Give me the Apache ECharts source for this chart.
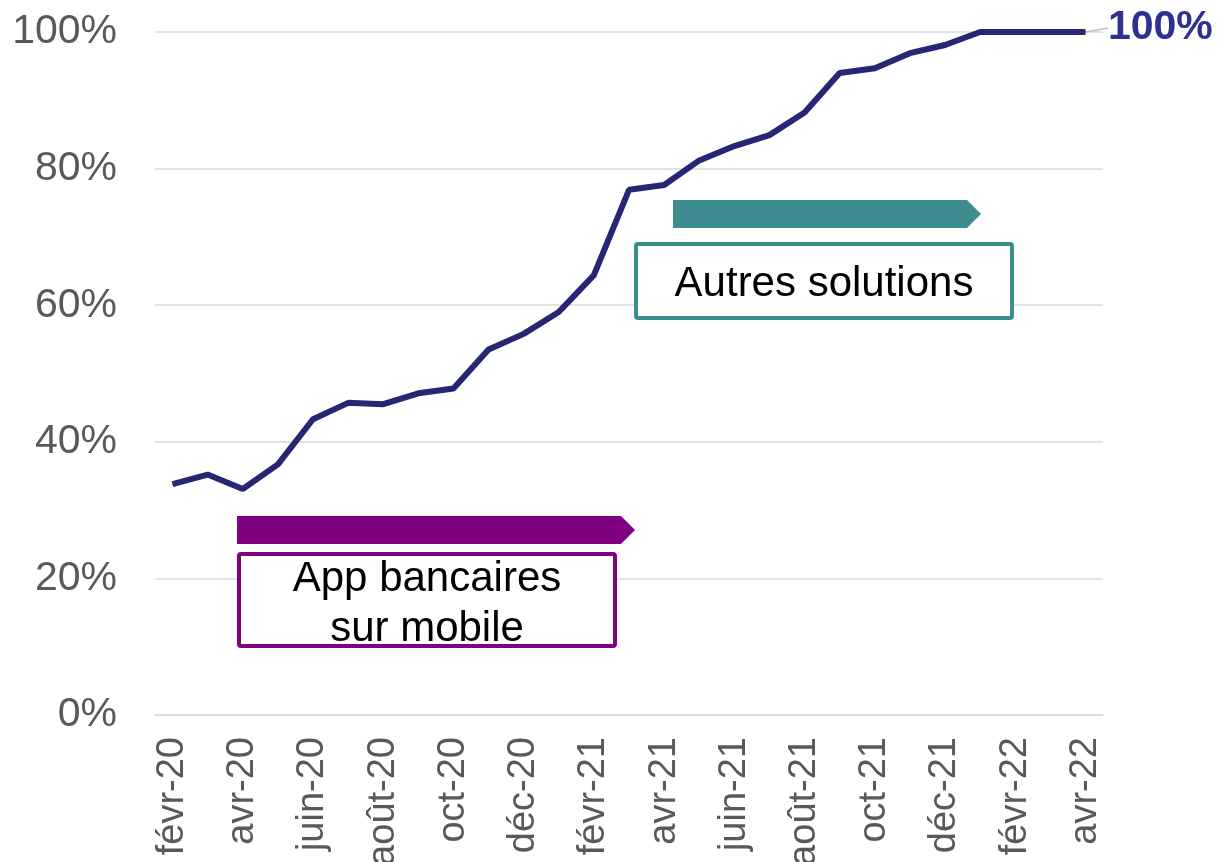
<!DOCTYPE html>
<html>
<head>
<meta charset="utf-8">
<script src="https://cdn.jsdelivr.net/npm/echarts@6/dist/echarts.min.js"></script>
<style>
  html, body { margin: 0; padding: 0; background: #fff; }
  #main { width: 1221px; height: 862px; }
</style>
</head>
<body>
<div id="main"></div>
<script>
var months = ['févr-20', 'mars-20', 'avr-20', 'mai-20', 'juin-20', 'juil-20', 'août-20', 'sept-20', 'oct-20',
  'nov-20', 'déc-20', 'janv-21', 'févr-21', 'mars-21', 'avr-21', 'mai-21', 'juin-21', 'juil-21', 'août-21',
  'sept-21', 'oct-21', 'nov-21', 'déc-21', 'janv-22', 'févr-22', 'mars-22', 'avr-22'];
var share = [33.8, 35.2, 33.1, 36.7, 43.3, 45.7, 45.5, 47.1, 47.8, 53.5, 55.8, 59.0, 64.4, 76.9,
  77.6, 81.2, 83.3, 84.9, 88.2, 94.0, 94.7, 96.9, 98.1, 100, 100, 100, 100];
var yTicks = [0, 20, 40, 60, 80, 100];
var boxTexts = ['App bancaires\nsur mobile', 'Autres solutions'];

var FONT = '"Liberation Sans", Arial, sans-serif';
var chart = echarts.init(document.getElementById('main'));

// only the last point gets a label
var seriesData = share.map(function (v, i) {
  if (i === share.length - 1) {
    return { value: v, label: { show: true }, labelLine: { show: true } };
  }
  return v;
});

var option = {
  animation: false,
  grid: { left: 155, right: 118, top: 32, bottom: 147, containLabel: false, outerBoundsMode: 'none' },
  xAxis: {
    type: 'category',
    data: months,
    boundaryGap: true,
    axisLine: { lineStyle: { color: '#d9d9d9', width: 1.5 } },
    axisTick: { interval: 1, length: 10, lineStyle: { color: '#d9d9d9', width: 1.5 } },
    axisLabel: { interval: 1, rotate: 90, margin: 22, fontSize: 38, color: '#595959', fontFamily: FONT }
  },
  yAxis: {
    type: 'value',
    min: yTicks[0],
    max: yTicks[yTicks.length - 1],
    interval: 20,
    axisLine: { show: false },
    axisTick: { show: false },
    splitLine: { lineStyle: { color: '#d9d9d9', width: 1.5 } },
    axisLabel: { formatter: '{value}%', margin: 38, fontSize: 41, color: '#595959', fontFamily: FONT }
  },
  series: [{
    type: 'line',
    data: seriesData,
    symbol: 'circle',
    symbolSize: 1,
    showSymbol: true,
    itemStyle: { color: '#262673' },
    lineStyle: { color: '#262673', width: 6 },
    label: {
      show: false,
      position: 'right',
      distance: 2,
      formatter: '{c}%',
      fontSize: 41,
      fontWeight: 'bold',
      color: '#2f3190',
      fontFamily: FONT
    },
    labelLayout: { dx: 20, dy: -4 },
    labelLine: { show: false, length2: 0, lineStyle: { color: '#bfbfbf', width: 1.5 } }
  }],
  // annotation arrows + boxes
  graphic: [
    {
      type: 'polygon', z: 10,
      shape: { points: [[237, 516], [621, 516], [635, 530], [621, 544], [237, 544]] },
      style: { fill: '#800080' }
    },
    {
      type: 'rect', z: 10,
      shape: { x: 239, y: 554, width: 376, height: 92, r: 2 },
      style: { fill: '#fff', stroke: '#800080', lineWidth: 4 }
    },
    {
      type: 'text', z: 11,
      x: 427, y: 604,
      style: {
        text: boxTexts[0], fontSize: 42, lineHeight: 50, fontFamily: FONT, fill: '#000',
        align: 'center', verticalAlign: 'middle'
      }
    },
    {
      type: 'polygon', z: 10,
      shape: { points: [[673, 200], [967, 200], [981, 214], [967, 228], [673, 228]] },
      style: { fill: '#3d8c8f' }
    },
    {
      type: 'rect', z: 10,
      shape: { x: 636, y: 244, width: 376, height: 74, r: 2 },
      style: { fill: '#fff', stroke: '#3d8c8f', lineWidth: 4 }
    },
    {
      type: 'text', z: 11,
      x: 824, y: 284,
      style: {
        text: boxTexts[1], fontSize: 42, fontFamily: FONT, fill: '#000',
        align: 'center', verticalAlign: 'middle'
      }
    }
  ]
};

chart.setOption(option);
</script>
</body>
</html>
